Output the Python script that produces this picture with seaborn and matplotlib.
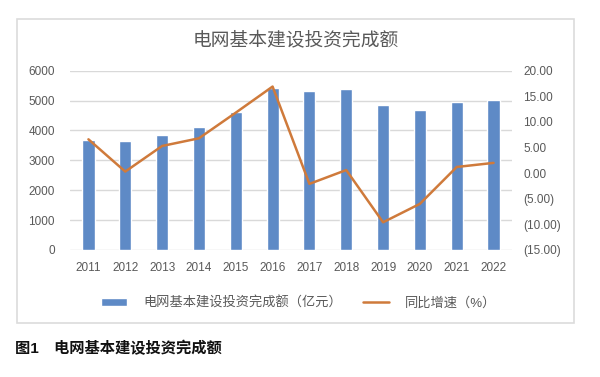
import numpy as np
import pandas as pd
import seaborn as sns
import matplotlib.pyplot as plt
from matplotlib.patches import Rectangle
from matplotlib.ticker import FuncFormatter

sns.set_style("white")
plt.rcParams['font.family'] = ['Liberation Sans', 'Noto Sans CJK SC', 'DejaVu Sans']

years = ['2011', '2012', '2013', '2014', '2015', '2016',
         '2017', '2018', '2019', '2020', '2021', '2022']
investment = [3687, 3661, 3856, 4118, 4603, 5431, 5315, 5373, 4856, 4699, 4951, 5012]
growth = [6.6, 0.3, 5.3, 6.8, 11.8, 16.9, -2.1, 0.6, -9.6, -6.0, 1.2, 2.0]

bar_label = '电网基本建设投资完成额（亿元）'
line_label = '同比增速（%）'
chart_title = '电网基本建设投资完成额'
caption = '图1　电网基本建设投资完成额'

bar_color = '#5e8ac6'
line_color = '#cf7a3b'
text_gray = '#595959'
grid_gray = '#d9d9d9'

df = pd.DataFrame({'year': years, 'investment': investment, 'growth': growth})

fig = plt.figure(figsize=(6, 3.77), dpi=100)
ax = fig.add_axes([0.1167, 0.337, 0.7366, 0.4755])

# outer chart frame
fig.patches.append(Rectangle((17 / 600, 1 - 323 / 377), 557 / 600, 304 / 377,
                             transform=fig.transFigure, fill=False,
                             edgecolor='#dcdcdc', linewidth=1.2, zorder=0))

sns.barplot(data=df, x='year', y='investment', color=bar_color, width=0.33,
            saturation=1, ax=ax, label=bar_label, zorder=3)
ax.set_ylim(0, 6000)
ax.set_yticks(range(0, 6001, 1000))
ax.set_xlim(-0.5, len(years) - 0.5)
ax.grid(axis='y', color=grid_gray, linewidth=1, zorder=0)
ax.set_axisbelow(True)
for s in ax.spines.values():
    s.set_visible(False)
ax.set_xlabel('')
ax.set_ylabel('')
ax.tick_params(axis='both', length=0, labelsize=8.5, labelcolor=text_gray)
ax.tick_params(axis='y', pad=11)
ax.tick_params(axis='x', pad=9)

ax2 = ax.twinx()
sns.lineplot(x=np.arange(len(years)), y=df['growth'], color=line_color,
             linewidth=1.8, ax=ax2, label=line_label, legend=False)
ax2.set_ylim(-15, 20)
ax2.set_yticks(range(-15, 21, 5))
ax2.yaxis.set_major_formatter(FuncFormatter(
    lambda v, p: f'({abs(v):.2f})' if v < 0 else f'{v:.2f}'))
for s in ax2.spines.values():
    s.set_visible(False)
ax2.set_ylabel('')
ax2.tick_params(axis='y', length=0, labelsize=8.5, labelcolor=text_gray, pad=8)
ax2.grid(False)

h1, l1 = ax.get_legend_handles_labels()
h2, l2 = ax2.get_legend_handles_labels()
if ax.get_legend() is not None:
    ax.get_legend().remove()
if ax2.get_legend() is not None:
    ax2.get_legend().remove()
fig.legend(h1 + h2, l1 + l2, loc='center', bbox_to_anchor=(0.498, 1 - 303 / 377),
           ncol=2, frameon=False, fontsize=9.5, labelcolor=text_gray,
           handlelength=2.0, handleheight=0.55, columnspacing=1.6, handletextpad=1.2)

fig.text(296 / 600, 1 - 40 / 377, chart_title, ha='center', va='center',
         fontsize=13.5, color=text_gray)
fig.text(15 / 600, 1 - 348 / 377, caption, ha='left', va='center',
         fontsize=11, fontweight='bold', color='#111111')

fig.savefig('out.png', dpi=100)
